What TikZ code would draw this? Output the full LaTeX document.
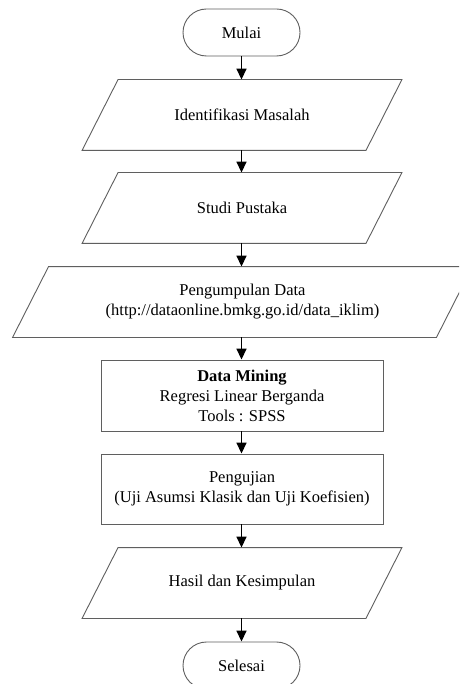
\documentclass[tikz,border=0pt]{standalone}
\usepackage{fontspec}
\setmainfont{Liberation Serif}
\usetikzlibrary{shapes.geometric,arrows.meta}
\definecolor{shapeline}{RGB}{95,95,95}
\tikzset{
  base/.style={draw=shapeline, line width=0.9pt, align=center, inner sep=0pt,
    font=\fontsize{16.5}{20}\selectfont, text=black},
  terminal/.style={base, rectangle, rounded corners=23.5pt, minimum width=117pt, minimum height=47pt},
  io/.style={base, draw=none, rectangle, minimum height=70pt},
  ioline/.style={draw=shapeline, line width=0.9pt},
  process/.style={base, rectangle, minimum width=282pt},
  flow/.style={-{Triangle[length=11pt,width=10pt]}, line width=1.6pt, black}
}
\newcommand{\iobox}[1]{%
  \draw[ioline] ([xshift=18pt]#1.north west) -- ([xshift=18pt]#1.north east)
    -- ([xshift=-18pt]#1.south east) -- ([xshift=-18pt]#1.south west) -- cycle;}
\begin{document}
\begin{tikzpicture}[x=1pt,y=-1pt]
\path[use as bounding box] (0,0) rectangle (459,684);
\clip (0,0) rectangle (459,684);
\fill[white] (0,0) rectangle (459,684);
\node[terminal] (mulai) at (241.5,32.5) {Mulai};
\node[io, minimum width=283pt] (p1) at (242,115) {Identifikasi Masalah};
\node[io, minimum width=283pt] (p2) at (242,208) {Studi Pustaka};
\node[io, minimum width=423pt] (p3) at (242.5,302) {Pengumpulan Data\\(http://dataonline.bmkg.go.id/data\_iklim)};
\node[process, minimum height=71pt] (r1) at (242,395.5) {\textbf{Data Mining}\\Regresi Linear Berganda\\Tools : SPSS};
\node[process, minimum height=70pt] (r2) at (242,489) {Pengujian\\(Uji Asumsi Klasik dan Uji Koefisien)};
\node[io, minimum width=283pt] (p4) at (242,583) {Hasil dan Kesimpulan};
\node[terminal] (selesai) at (241.5,665.5) {Selesai};
\iobox{p1}
\iobox{p2}
\iobox{p3}
\iobox{p4}
\draw[flow] (mulai.south) -- (mulai.south |- p1.north);
\draw[flow] (mulai.south |- p1.south) -- (mulai.south |- p2.north);
\draw[flow] (mulai.south |- p2.south) -- (mulai.south |- p3.north);
\draw[flow] (mulai.south |- p3.south) -- (mulai.south |- r1.north);
\draw[flow] (mulai.south |- r1.south) -- (mulai.south |- r2.north);
\draw[flow] (mulai.south |- r2.south) -- (mulai.south |- p4.north);
\draw[flow] (mulai.south |- p4.south) -- (selesai.north);
\end{tikzpicture}
\end{document}
